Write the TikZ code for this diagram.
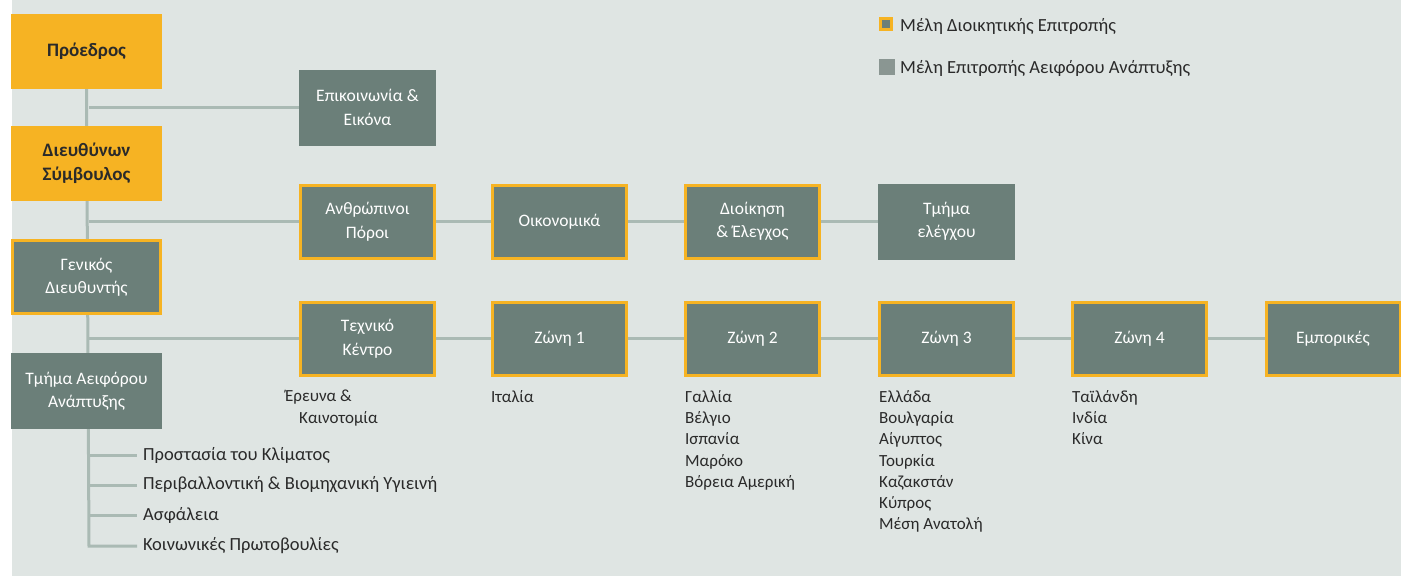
\documentclass[tikz,border=0pt]{standalone}
\usepackage{fontspec}
\setmainfont{Carlito}
\usetikzlibrary{backgrounds}
\definecolor{bgc}{HTML}{DFE5E3}
\definecolor{boxc}{HTML}{6B7F79}
\definecolor{orng}{HTML}{F6B323}
\definecolor{linec}{HTML}{AABAB4}
\definecolor{txtc}{HTML}{2A2A2A}
\definecolor{legc}{HTML}{8A9692}
\tikzset{
  every node/.style={font=\fontsize{17.5}{23.5}\selectfont},
  orgbox/.style={fill=boxc, text=white, align=center, minimum width=134pt, minimum height=73pt, inner sep=0pt, draw=orng, line width=3pt},
  plainbox/.style={fill=boxc, text=white, align=center, minimum width=137pt, minimum height=76pt, inner sep=0pt},
  topbox/.style={fill=orng, text=txtc, align=center, minimum width=151pt, minimum height=75pt, inner sep=0pt, font=\fontsize{19}{24}\selectfont\bfseries},
  leftbox/.style={fill=boxc, text=white, align=center, minimum width=148pt, minimum height=73pt, inner sep=0pt, draw=orng, line width=3pt},
  leftplain/.style={fill=boxc, text=white, align=center, minimum width=151pt, minimum height=76pt, inner sep=0pt},
  conn/.style={draw=linec, line width=3pt},
  listtxt/.style={text=txtc, align=left, anchor=north west, inner sep=0pt, font=\fontsize{17}{21.3}\selectfont},
  legtxt/.style={text=txtc, anchor=west, inner sep=0pt, font=\fontsize{18.5}{21}\selectfont}
}
\begin{document}
\begin{tikzpicture}[x=1pt,y=-1pt]
\useasboundingbox (0,0) rectangle (1401,576);
% boxes
\node[topbox] (pres) at (86.5,51.5) {Πρόεδρος};
\node[topbox] (ceo) at (86.5,163.5) {Διευθύνων\\Σύμβουλος};
\node[leftbox] (gm) at (86.5,277) {Γενικός\\Διευθυντής};
\node[leftplain] (sus) at (86.5,391) {Τμήμα Αειφόρου\\Ανάπτυξης};
\node[plainbox] (comm) at (367.5,107.5) {Επικοινωνία \&\\Εικόνα};
\node[orgbox] (hr) at (367.5,221.5) {Ανθρώπινοι\\Πόροι};
\node[orgbox] (fin) at (559.5,221.5) {Οικονομικά};
\node[orgbox] (adm) at (752.5,221.5) {Διοίκηση\\\& Έλεγχος};
\node[plainbox] (aud) at (946.5,221.5) {Τμήμα\\ελέγχου};
\node[orgbox] (tech) at (367.5,338.5) {Τεχνικό\\Κέντρο};
\node[orgbox] (z1) at (559.5,338.5) {Ζώνη 1};
\node[orgbox] (z2) at (752.5,338.5) {Ζώνη 2};
\node[orgbox] (z3) at (946.5,338.5) {Ζώνη 3};
\node[orgbox] (z4) at (1139.5,338.5) {Ζώνη 4};
\node[orgbox] (com) at (1333,338.5) {Εμπορικές};
% coordinates on the spine
\coordinate (s1) at (89,107.5);
\coordinate (s2) at (89,221.5);
\coordinate (s3) at (89,338.5);
\coordinate (b1) at (89,455);
\coordinate (b2) at (89,485);
\coordinate (b3) at (89,515);
\coordinate (b4) at (89,546);
\coordinate (e1) at (137,455);
\coordinate (e2) at (137,485);
\coordinate (e3) at (137,515);
\coordinate (e4) at (137,546);
% lists
\node[listtxt] (l0) at (299,390) {\hspace*{-14pt}Έρευνα \&\\Καινοτομία};
\node[listtxt] (l1) at (491,390) {Ιταλία};
\node[listtxt] (l2) at (685,390) {Γαλλία\\Βέλγιο\\Ισπανία\\Μαρόκο\\Βόρεια Αμερική};
\node[listtxt] (l3) at (879,390) {Ελλάδα\\Βουλγαρία\\Αίγυπτος\\Τουρκία\\Καζακστάν\\Κύπρος\\Μέση Ανατολή};
\node[listtxt] (l4) at (1072,390) {Ταϊλάνδη\\Ινδία\\Κίνα};
\node[legtxt] (t1) at (143,455) {Προστασία του Κλίματος};
\node[legtxt] (t2) at (143,485) {Περιβαλλοντική \& Βιομηχανική Υγιεινή};
\node[legtxt] (t3) at (143,515) {Ασφάλεια};
\node[legtxt] (t4) at (143,546) {Κοινωνικές Πρωτοβουλίες};
% legend
\node[fill=boxc, draw=orng, line width=2.5pt, minimum size=11pt, inner sep=0pt] (k1) at (886,24) {};
\node[legtxt] (k1t) at (900,26) {Μέλη Διοικητικής Επιτροπής};
\node[fill=legc, minimum size=16pt, inner sep=0pt] (k2) at (886.5,66.5) {};
\node[legtxt] (k2t) at (900,68) {Μέλη Επιτροπής Αειφόρου Ανάπτυξης};
\begin{scope}[on background layer]
\fill[white] (0,0) rectangle (12,576);
\fill[bgc] (12,0) rectangle (1401,576);
\draw[conn] (pres.south) -- (b4) -- (e4);
\draw[conn] (s1) -- (comm.west);
\draw[conn] (s2) -- (hr.west);
\draw[conn] (hr.east) -- (fin.west);
\draw[conn] (fin.east) -- (adm.west);
\draw[conn] (adm.east) -- (aud.west);
\draw[conn] (s3) -- (tech.west);
\draw[conn] (tech.east) -- (z1.west);
\draw[conn] (z1.east) -- (z2.west);
\draw[conn] (z2.east) -- (z3.west);
\draw[conn] (z3.east) -- (z4.west);
\draw[conn] (z4.east) -- (com.west);
\draw[conn] (b1) -- (e1);
\draw[conn] (b2) -- (e2);
\draw[conn] (b3) -- (e3);
\end{scope}
\end{tikzpicture}
\end{document}
